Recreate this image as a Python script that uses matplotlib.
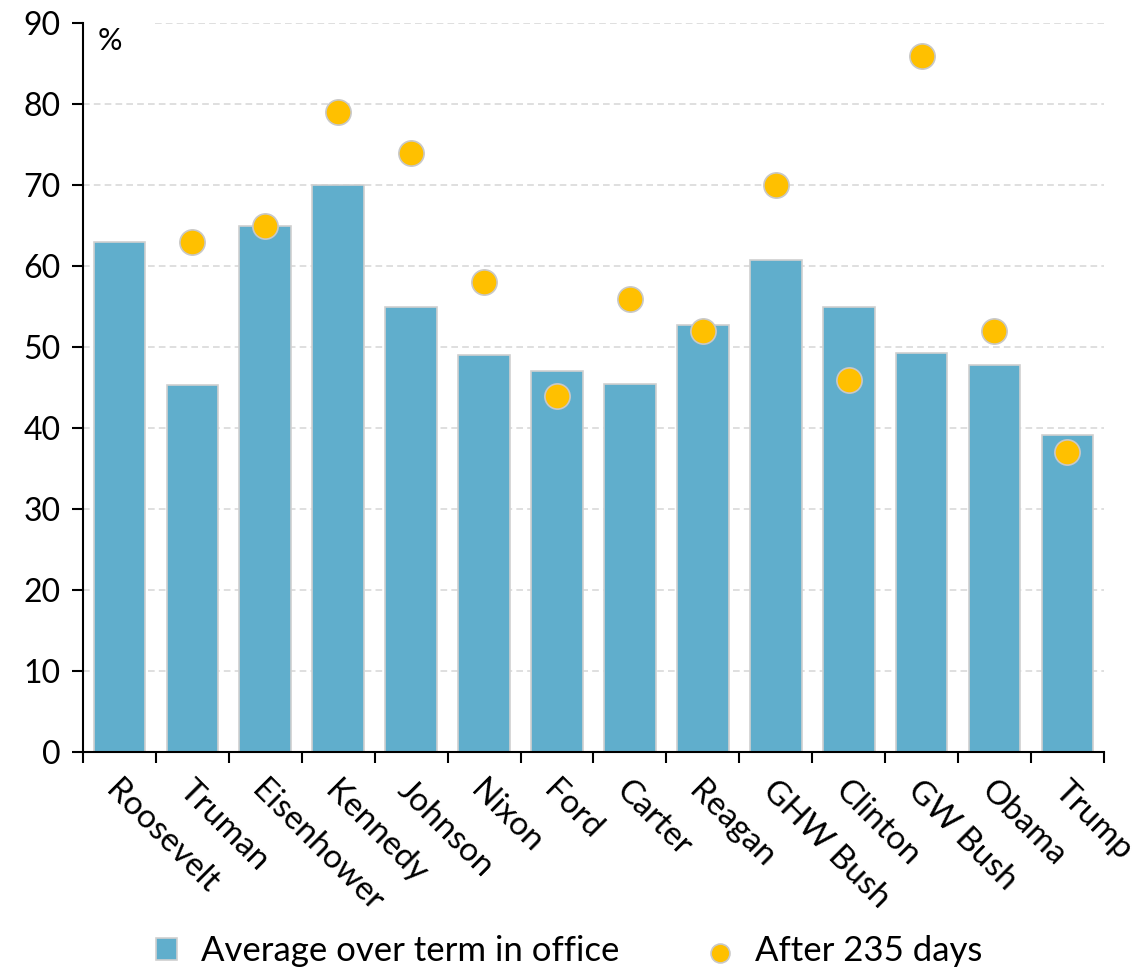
import matplotlib
matplotlib.use("Agg")
import matplotlib.pyplot as plt
import numpy as np

presidents = ["Roosevelt", "Truman", "Eisenhower", "Kennedy", "Johnson", "Nixon",
              "Ford", "Carter", "Reagan", "GHW Bush", "Clinton", "GW Bush",
              "Obama", "Trump"]
avg_term = [63.0, 45.3, 64.9, 70.0, 55.0, 49.0, 47.0, 45.4, 52.7, 60.8, 55.0, 49.3, 47.8, 39.1]
after_235 = [np.nan, 63, 65, 79, 74, 58, 44, 56, 52, 70, 46, 86, 52, 37]
y_ticks = list(range(0, 91, 10))

plt.rcParams["font.family"] = ["Lato", "DejaVu Sans"]

fig = plt.figure(figsize=(11.38, 9.69), dpi=100)
ax = fig.add_axes([0.073, 0.224, 0.897, 0.752])

x = np.arange(len(presidents))
bar_color = "#60AECC"
dot_color = "#FFC000"

bars = ax.bar(x, avg_term, width=0.71, color=bar_color, edgecolor="#D0D0D0",
              linewidth=1.2, zorder=2, label="Average over term in office")
dots = ax.scatter(x, after_235, s=330, color=dot_color, edgecolor="#C8C8C8",
                  linewidth=1.2, zorder=3, label="After 235 days")

ax.set_xlim(-0.5, len(presidents) - 0.5)
ax.set_ylim(0, 90)
ax.set_yticks(y_ticks)
ax.tick_params(axis="y", labelsize=23, length=8, width=1.5, direction="out", pad=8)

# gridlines; the top one is shortened to leave room for the unit label
for yv in y_ticks[1:]:
    x0 = 0.07 if yv == 90 else 0.0
    ax.axhline(yv, xmin=x0, xmax=1.0, color="#D9D9D9", linestyle=(0, (4, 2.5)),
               linewidth=1.2, zorder=1)

# category boundary ticks on the x axis
ax.set_xticks(np.arange(-0.5, len(presidents), 1.0))
ax.set_xticklabels([])
ax.tick_params(axis="x", length=8, width=1.5, direction="out")
for xi, name in zip(x, presidents):
    ax.text(xi - 0.12, -4.2, name, rotation=-45, rotation_mode="anchor",
            ha="left", va="center", fontsize=24, transform=ax.transData,
            clip_on=False)

for side in ("top", "right"):
    ax.spines[side].set_visible(False)
ax.spines["left"].set_linewidth(1.5)
ax.spines["bottom"].set_linewidth(1.5)

ax.text(0.014, 0.995, "%", transform=ax.transAxes, fontsize=22,
        ha="left", va="top")

fig.legend([bars, dots], ["Average over term in office", "After 235 days"],
           loc="lower center", bbox_to_anchor=(0.5, -0.03), ncol=2,
           frameon=False, fontsize=25, handlelength=0.6, handleheight=0.6,
           handletextpad=0.7, columnspacing=2.6, markerscale=0.75)

fig.savefig("out.png", dpi=100)
